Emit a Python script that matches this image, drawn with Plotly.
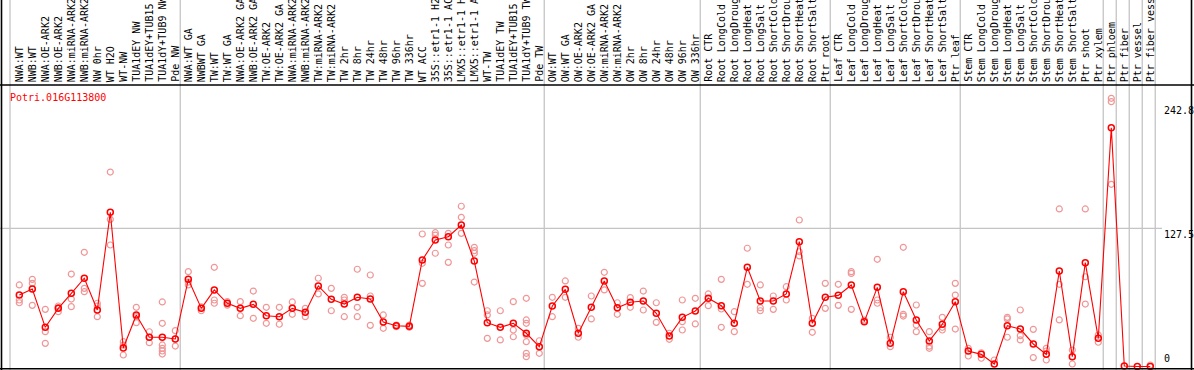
import plotly.graph_objects as go

title_text = "Potri.016G113800"

categories = [
    "NWA:WT", "NWB:WT", "NWA:OE-ARK2", "NWB:OE-ARK2", "NWA:miRNA-ARK2", "NWB:miRNA-ARK2",
    "NW 0hr", "WT H2O", "WT-NW", "TUA1dEY NW", "TUA1dEY+TUB15 NW", "TUA1dY+TUB9 NW", "Pde NW",
    "NWA:WT GA", "NWBWT GA", "TW:WT", "TW:WT GA", "NWA:OE-ARK2 GA", "NWB:OE-ARK2 GA",
    "TW:OE-ARK2", "TW:OE-ARK2 GA", "NWA:miRNA-ARK2", "NWB:miRNA-ARK2", "TW:miRNA-ARK2",
    "TW:miRNA-ARK2", "TW 2hr", "TW 8hr", "TW 24hr", "TW 48hr", "TW 96hr", "TW 336hr", "WT ACC",
    "35S::etr1-1 H2O", "35S::etr1-1 ACC", "LMX5::etr1-1 H2O", "LMX5::etr1-1 ACC", "WT-TW",
    "TUA1dEY TW", "TUA1dEY+TUB15 TW", "TUA1dY+TUB9 TW", "Pde TW",
    "OW:WT", "OW:WT GA", "OW:OE-ARK2", "OW:OE-ARK2 GA", "OW:miRNA-ARK2", "OW:miRNA-ARK2",
    "OW 2hr", "OW 8hr", "OW 24hr", "OW 48hr", "OW 96hr", "OW 336hr",
    "Root CTR", "Root LongCold", "Root LongDrought", "Root LongHeat", "Root LongSalt",
    "Root ShortCold", "Root ShortDrought", "Root ShortHeat", "Root ShortSalt", "Ptr root",
    "Leaf CTR", "Leaf LongCold", "Leaf LongDrought", "Leaf LongHeat", "Leaf LongSalt",
    "Leaf ShortCold", "Leaf ShortDrought", "Leaf ShortHeat", "Leaf ShortSalt", "Ptr leaf",
    "Stem CTR", "Stem LongCold", "Stem LongDrought", "Stem LongHeat", "Stem LongSalt",
    "Stem ShortCold", "Stem ShortDrought", "Stem ShortHeat", "Stem ShortSalt", "Ptr shoot",
    "Ptr xylem", "Ptr phloem", "Ptr fiber", "Ptr vessel", "Ptr fiber vessel",
]

group_sizes = [13, 28, 12, 10, 10, 11, 1, 1, 1, 1]

means = [
    66.0, 71.6, 36.2, 53.7, 67.6, 81.5, 52.2, 142.4, 17.1, 47.6, 27.0, 27.0, 25.4,
    80.5, 53.7, 70.7, 58.4, 53.7, 57.4, 46.9, 46.0, 53.7, 50.0, 74.4, 62.1, 57.7, 63.9,
    62.3, 41.1, 37.7, 37.1, 98.4, 116.8, 119.9, 130.7, 97.4, 40.5, 36.2, 39.9, 30.7, 18.3,
    55.9, 71.3, 30.7, 54.7, 79.0, 54.3, 59.3, 60.5, 49.1, 28.2, 45.4, 51.3,
    63.0, 56.2, 39.9, 91.6, 60.5, 60.5, 67.0, 115.3, 39.9, 63.9,
    65.7, 75.3, 41.4, 73.1, 21.4, 69.1, 43.0, 23.6, 39.0, 59.9,
    14.3, 11.2, 2.3, 37.7, 34.6, 20.8, 11.2, 88.2, 9.1, 95.9, 26.0,
    220.6, 0.5, 0.0, 0.0,
]

replicates = [
    [75.3, 61.4, 58.9], [80.5, 76.8, 56.5], [52.8, 32.2, 21.4], [55.9, 50.6, 54.5],
    [85.4, 62.3, 55.3], [105.5, 72.2, 69.1], [58.4, 55.9, 46.0], [179.6, 135.9, 112.2],
    [22.9, 10.6, 19.7], [54.7, 40.5, 46.0], [32.1, 22.0, 27.0],
    [59.6, 39.9, 19.9, 16.8, 14.3, 11.5], [33.1, 18.9, 25.4],
    [87.6, 75.3, 78.0], [55.0, 51.5], [91.6, 61.4, 58.4], [60.0, 56.7], [59.9, 46.9],
    [69.7, 44.5], [54.7, 39.9], [54.7, 39.0], [59.6, 48.2], [53.7, 46.0], [81.5, 67.0],
    [72.2, 51.5], [63.9, 61.4, 46.0], [89.8, 54.7, 46.0], [84.5, 65.1, 38.0], [47.6, 35.3],
    [38.3, 36.8], [38.3, 36.2], [122.4, 95.3, 76.8], [123.6, 121.4, 104.6],
    [123.0, 112.2, 96.2], [123.0, 137.8, 148.0], [110.1, 107.0, 104.6, 78.0],
    [51.5, 47.6, 26.0], [51.5, 24.5], [59.9, 33.7, 27.5],
    [63.0, 43.0, 39.9, 29.1, 22.9, 12.2, 9.1], [23.8, 12.2],
    [63.9, 46.0], [79.0, 63.9], [35.3, 27.0], [65.1, 43.9], [87.0, 70.7], [58.9, 48.2],
    [63.6, 54.7], [69.7, 52.2], [58.9, 40.8], [30.7, 25.1], [61.4, 33.7, 41.4], [63.0, 39.3],
    [67.0, 56.2], [80.5, 53.1, 36.2], [50.6, 32.2], [109.2, 75.9], [75.3, 54.3, 51.5],
    [65.1, 52.8], [73.7, 61.4], [135.3, 106.0, 102.1], [44.5, 31.6], [76.8, 53.7],
    [75.9, 56.5], [87.6, 86.0, 52.8], [42.8], [99.0, 61.4, 58.4], [27.0, 18.3],
    [110.1, 48.2, 46.6], [56.8, 38.3, 32.2], [32.2, 18.8, 16.8], [45.4, 36.2, 33.7],
    [76.8, 66.0, 34.6],
    [16.8, 9.7], [12.7, 7.6], [6.0], [45.4, 43.9, 27.0], [52.2, 28.5, 24.5], [34.3, 8.2],
    [16.8, 14.3, 6.0], [145.5, 75.9, 43.0], [15.2, 2.3], [145.5, 82.9, 57.7], [29.1, 22.4],
    [247.7, 244.6, 168.3], [], [], [1.4],
]

y_ticks = [0, 127.5, 242.8]
y_tick_labels = ["0", "127.5", "242.8"]

# ---------------------------------------------------------------------------
W, H = 1194, 370
X0_PX, DX_PX = 19.3, 13.0          # pixel position of first category, spacing
Y0_PX, DY_PX = 366.5, 1.0827       # pixel of value 0, pixels per unit

x_range = [-X0_PX / DX_PX, (W - X0_PX) / DX_PX]
y_range = [(Y0_PX - H) / DY_PX, Y0_PX / DY_PX]

def py(px):  # paper y from pixel y
    return (H - px) / H

def pxx(px):  # paper x from pixel x
    return px / W

xs = list(range(len(categories)))
rep_x, rep_y = [], []
for i, reps in enumerate(replicates):
    for v in reps:
        rep_x.append(i)
        rep_y.append(v)

fig = go.Figure()
fig.add_trace(go.Scatter(
    x=rep_x, y=rep_y, mode="markers",
    marker=dict(symbol="circle-open", size=6, color="rgb(240,150,150)",
                line=dict(width=1.2, color="rgb(240,150,150)")),
    hoverinfo="skip", showlegend=False, cliponaxis=False,
))
fig.add_trace(go.Scatter(
    x=xs, y=means, mode="lines+markers",
    line=dict(color="red", width=1.1),
    marker=dict(symbol="circle-open", size=6, color="red",
                line=dict(width=1.5, color="red")),
    showlegend=False, cliponaxis=False,
))

shapes = []
grey = "#c4c4c4"
# vertical separators
bounds = [-0.715]
acc = 0
for g in group_sizes:
    acc += g
    bounds.append(acc - 1 + 0.38)
for b in bounds:
    shapes.append(dict(type="line", xref="x", yref="paper", x0=b, x1=b, y0=0, y1=1,
                       line=dict(color=grey, width=1.3), layer="below"))
# horizontal grid at 127.5
shapes.append(dict(type="line", xref="paper", yref="y", x0=0, x1=pxx(1162),
                   y0=y_ticks[1], y1=y_ticks[1], line=dict(color=grey, width=1.3), layer="below"))
# black frame lines
blk = dict(color="black", width=1.6)
shapes += [
    dict(type="line", xref="paper", yref="paper", x0=pxx(1.5), x1=pxx(1.5), y0=0, y1=1, line=blk),
    dict(type="line", xref="paper", yref="paper", x0=pxx(1191.5), x1=pxx(1191.5), y0=0, y1=1, line=blk),
    dict(type="line", xref="paper", yref="paper", x0=0, x1=1, y0=py(85), y1=py(85), line=blk),
    dict(type="line", xref="paper", yref="paper", x0=0, x1=1, y0=py(368.8), y1=py(368.8), line=blk),
]

mono = "DejaVu Sans Mono"
annotations = []
for i, c in enumerate(categories):
    annotations.append(dict(
        x=i, xref="x", y=py(83), yref="paper", text=c, showarrow=False,
        textangle=-90, xanchor="center", yanchor="bottom",
        font=dict(family=mono, size=10, color="black"), borderpad=0,
    ))
annotations.append(dict(
    x=pxx(9), xref="paper", y=py(97), yref="paper", text=title_text, showarrow=False,
    xanchor="left", yanchor="middle", font=dict(family=mono, size=10, color="red"), borderpad=0,
))
for v, lab in zip(y_ticks, y_tick_labels):
    annotations.append(dict(
        x=pxx(1163), xref="paper", y=(v + 1.5) if v == 0 else v, yref="y", text=lab,
        showarrow=False, xanchor="left", yanchor="bottom" if v == 0 else "top",
        font=dict(family=mono, size=10, color="black"), borderpad=0,
    ))

fig.update_layout(
    width=W, height=H, autosize=False,
    margin=dict(l=0, r=0, t=0, b=0, pad=0),
    paper_bgcolor="white", plot_bgcolor="white",
    xaxis=dict(range=x_range, visible=False, fixedrange=True),
    yaxis=dict(range=y_range, visible=False, fixedrange=True),
    shapes=shapes, annotations=annotations, showlegend=False,
)

fig.write_html(
    "out.html",
    config={"displayModeBar": False},
    post_script="document.body.style.margin='0px';document.body.style.overflow='hidden';",
)
